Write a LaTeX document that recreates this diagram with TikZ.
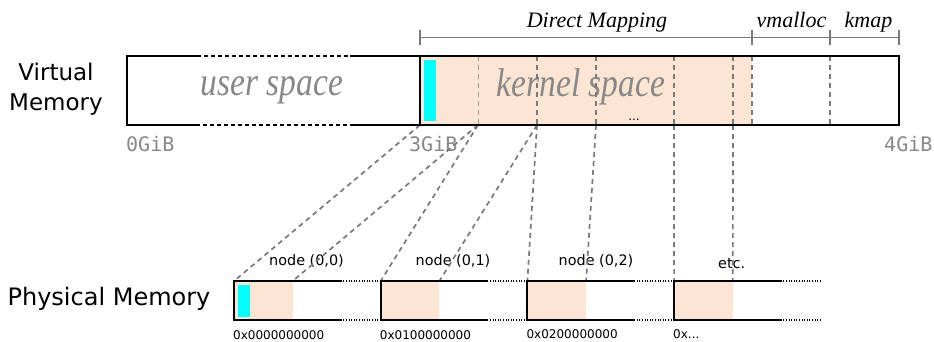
\documentclass[tikz,border=0pt]{standalone}
\usepackage{fontspec}
\usepackage{graphicx}
\setmainfont{DejaVu Sans}
\newfontfamily\serifit{Liberation Serif}
\newfontfamily\monof{DejaVu Sans Mono}
\definecolor{peach}{HTML}{FDE5D3}
\definecolor{aqua}{HTML}{00FFFF}
\definecolor{midgray}{HTML}{7A7A7A}
\definecolor{txtgray}{HTML}{888888}
\tikzset{
  lbl/.style={inner sep=0pt, anchor=base},
  lblw/.style={inner sep=0pt, anchor=base west},
  conn/.style={draw=midgray, line width=1.7pt, dash pattern=on 5pt off 4pt},
  thinconn/.style={draw=midgray!75, line width=1pt, dash pattern=on 5pt off 4pt},
  vbox/.style={draw=black, line width=1.6pt},
  vdash/.style={draw=black, line width=1.6pt, dash pattern=on 4pt off 3pt},
  pline/.style={draw=black, line width=2pt},
  pdot/.style={draw=black, line width=2pt, dash pattern=on 1pt off 1.6pt},
  dimline/.style={draw=midgray, line width=1.6pt},
}
\begin{document}
\begin{tikzpicture}[x=1pt,y=-1pt]
\useasboundingbox (0,0) rectangle (934,341);

% ---------- fills
\fill[peach] (420,56) rectangle (752,125);
\fill[aqua] (424,60) rectangle (436,121);
\foreach \i in {0,...,3}{
  \pgfmathsetmacro\xa{234+146.7*\i}
  \fill[peach] (\xa,281) rectangle (\xa+58.7,320);
}
\fill[aqua] (238,285) rectangle (250,317);

% ---------- texts
\node[lbl] (vm1) at (56,80) {\fontsize{23}{27}\selectfont Virtual};
\node[lbl] (vm2) at (56,110) {\fontsize{23}{27}\selectfont Memory};
\node[lbl] (pm) at (109,305) {\fontsize{24}{28}\selectfont Physical Memory};

\node[lbl, text=txtgray] (us) at (272,95) {\scalebox{1}[1.2]{\fontsize{33.5}{38}\serifit\itshape user space}};
\node[lbl, text=txtgray] (ks) at (581,96) {\scalebox{1}[1.2]{\fontsize{33.5}{38}\serifit\itshape kernel space}};
\node[lbl] (dots) at (634,120.5) {\fontsize{12}{14}\selectfont ...};

\node[lbl] (dm) at (597,27) {\fontsize{22}{26}\serifit\itshape Direct Mapping};
\node[lbl] (vmal) at (791.5,27) {\fontsize{22}{26}\serifit\itshape vmalloc};
\node[lbl] (kmap) at (868.5,27) {\fontsize{22}{26}\serifit\itshape kmap};

\node[lblw, text=txtgray] (g0) at (126,151.7) {\fontsize{20}{24}\monof 0GiB};
\node[lblw, text=txtgray] (g3) at (409,151.7) {\fontsize{20}{24}\monof 3GiB};
\node[lblw, text=txtgray] (g4) at (884,151.7) {\fontsize{20}{24}\monof 4GiB};

\node[lbl] (n00) at (306.5,265) {\fontsize{14.4}{17}\selectfont node (0,0)};
\node[lbl] (n01) at (453,265) {\fontsize{14.4}{17}\selectfont node (0,1)};
\node[lbl] (n02) at (596,265) {\fontsize{14.4}{17}\selectfont node (0,2)};
\node[lbl] (etc) at (731.7,268) {\fontsize{14.4}{17}\selectfont etc.};

\node[lblw] (a0) at (233,339) {\fontsize{12}{14}\selectfont 0x0000000000};
\node[lblw] (a1) at (379.7,339) {\fontsize{12}{14}\selectfont 0x0100000000};
\node[lblw] (a2) at (526.4,338.5) {\fontsize{12}{14}\selectfont 0x0200000000};
\node[lblw] (a3) at (673,338.5) {\fontsize{12}{14}\selectfont 0x...};

% ---------- dimension line
\coordinate (d0) at (420,37.5);
\coordinate (d1) at (752,37.5);
\coordinate (d2) at (830,37.5);
\coordinate (d3) at (899,37.5);
\draw[dimline] (d0) -- (d3);
\foreach \c in {d0,d1,d2,d3}{
  \draw[dimline] ([yshift=-7.5pt]\c) -- ([yshift=8pt]\c);
}

% ---------- coordinates of virtual memory
\foreach \x in {420,478,537,596,674,733,752,830}{
  \coordinate (vt\x) at (\x,56);
  \coordinate (vb\x) at (\x,125);
}
% physical box tops
\coordinate (p0l) at (234,281);   \coordinate (p0f) at (292.7,281);
\coordinate (p1l) at (380.7,281); \coordinate (p1f) at (439.4,281);
\coordinate (p2l) at (527.4,281); \coordinate (p2f) at (586.1,281);
\coordinate (p3l) at (674.1,281); \coordinate (p3f) at (732.8,281);

% ---------- dashed lines inside virtual box
\draw[thinconn] (vt478) -- (vb478);
\foreach \x in {537,596,674,733,752,830}{
  \draw[conn] (vt\x) -- (vb\x);
}
% ---------- mapping connectors
\draw[conn] (vb420) -- (p0l);
\draw[conn] (vb478) -- (p0f);
\draw[conn] (vb478) -- (p1l);
\draw[conn] (vb537) -- (p1f);
\draw[conn] (vb537) -- (p2l);
\draw[conn] (vb596) -- (p2f);
\draw[conn] (vb674) -- (p3l);
\draw[conn] (vb733) -- (p3f);

% ---------- virtual box outline
\draw[vbox] (197,56) -- (127,56) -- (127,125) -- (196,125);
\draw[vdash] (197,56) -- (350,56);
\draw[vdash] (196,125) -- (350,125);
\draw[vbox] (350,56) -- (899,56) -- (899,125) -- (350,125);
\draw[vbox] (420,56) -- (420,125);

% ---------- physical boxes
\foreach \i in {0,...,3}{
  \pgfmathsetmacro\xa{234+146.7*\i}
  \draw[pline] (\xa+106.7,281) -- (\xa,281) -- (\xa,320) -- (\xa+106.7,320);
  \draw[pdot] (\xa+106.7,281) -- (\xa+146.7,281);
  \draw[pdot] (\xa+106.7,320) -- (\xa+146.7,320);
}
\end{tikzpicture}
\end{document}
